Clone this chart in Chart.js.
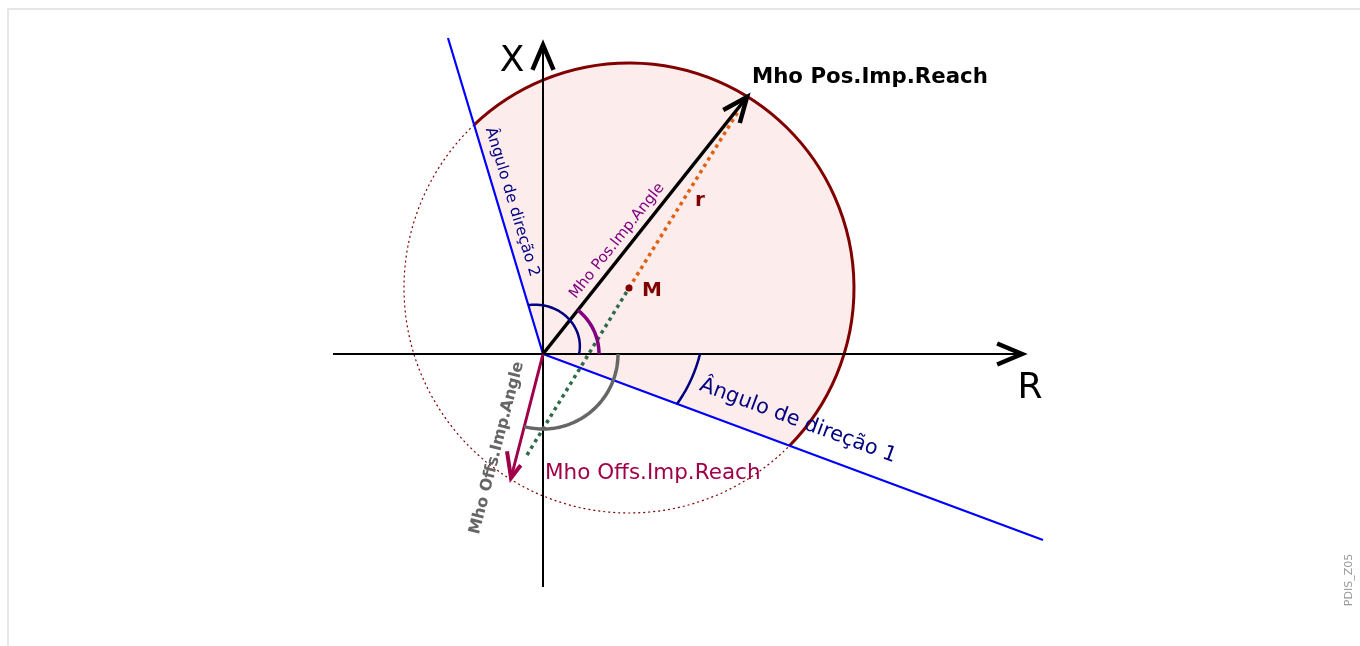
<!DOCTYPE html>
<html><head><meta charset="utf-8">
<script src="https://cdn.jsdelivr.net/npm/chart.js@4.4.0/dist/chart.umd.min.js"></script>
<style>html,body{margin:0;padding:0;background:#fff;overflow:hidden}canvas{display:block}</style>
</head><body>
<canvas id="c" width="1360" height="646"></canvas>
<script>
// ---- diagram values (impedance plane units, origin at R=0, X=0) ----
const axisR = [[-210, 0], [479, 0]];
const axisX = [[0, -233], [0, 309]];
const dirLine1 = [[0, 0], [500, -186]];
const dirLine2 = [[0, 0], [-95, 316]];
const posReach = [[0, 0], [204, 257]];
const offsReach = [[0, 0], [-32, -124]];
const centerM = [86, 66];
const radiusR = 225;
const offsToM = [[-16, -101], [86, 66]];
const mToPos = [[86, 66], [196, 244]];
const angleArcRadii = { dir2: [36, 51], posAngle: [56, 56], offsAngle: [75, 75], dir1: [157, 143] };
const labelTexts = {
  X: 'X', R: 'R', posReach: 'Mho Pos.Imp.Reach', offsReach: 'Mho Offs.Imp.Reach',
  posAngle: 'Mho Pos.Imp.Angle', offsAngle: 'Mho Offs.Imp.Angle',
  dir1: 'Ângulo de direção 1', dir2: 'Ângulo de direção 2', M: 'M', r: 'r', id: 'PDIS_Z05'
};

const toXY = a => a.map(p => ({ x: p[0], y: p[1] }));
const FONT = '"DejaVu Sans", "Liberation Sans", sans-serif';

function lineDS(points, color, width, dash, order) {
  return { type: 'scatter', data: toXY(points), showLine: true, borderColor: color, backgroundColor: color,
    borderWidth: width, borderDash: dash || [], pointRadius: 0, pointHoverRadius: 0, order: order || 0,
    borderCapStyle: 'butt', tension: 0 };
}

const diagram = {
  id: 'diagram',
  beforeDraw(chart) {
    const ctx = chart.ctx;
    ctx.save();
    ctx.strokeStyle = '#e6e6e6';
    ctx.lineWidth = 2;
    ctx.beginPath();
    ctx.moveTo(8, 646); ctx.lineTo(8, 9); ctx.lineTo(1360, 9);
    ctx.stroke();
    ctx.restore();
  },
  beforeDatasetsDraw(chart) {
    const ctx = chart.ctx, xs = chart.scales.x, ys = chart.scales.y;
    const P = p => [xs.getPixelForValue(p[0]), ys.getPixelForValue(p[1])];
    const unit = xs.getPixelForValue(1) - xs.getPixelForValue(0);
    const hit = (end) => {
      const L = Math.hypot(end[0], end[1]); const d = [end[0] / L, end[1] / L];
      const dm = d[0] * centerM[0] + d[1] * centerM[1];
      const t = dm + Math.sqrt(dm * dm - (centerM[0] ** 2 + centerM[1] ** 2) + radiusR * radiusR);
      return [d[0] * t, d[1] * t];
    };
    const p1 = P(hit(dirLine1[1])), p2 = P(hit(dirLine2[1])), c = P(centerM), o = P([0, 0]);
    const R = radiusR * unit;
    const a1 = Math.atan2(p1[1] - c[1], p1[0] - c[0]);
    const a2 = Math.atan2(p2[1] - c[1], p2[0] - c[0]);
    ctx.save();
    ctx.beginPath();
    ctx.moveTo(o[0], o[1]); ctx.lineTo(p1[0], p1[1]);
    ctx.arc(c[0], c[1], R, a1, a2, true);
    ctx.closePath();
    ctx.fillStyle = '#fcecec';
    ctx.fill();
    ctx.strokeStyle = '#800000'; ctx.lineWidth = 1; ctx.stroke();
    // dotted remainder
    ctx.beginPath();
    ctx.arc(c[0], c[1], R, a2, a1, true);
    ctx.setLineDash([2, 3]); ctx.lineWidth = 1.2; ctx.strokeStyle = '#800000'; ctx.stroke();
    ctx.setLineDash([]);
    // solid arc
    ctx.beginPath();
    ctx.arc(c[0], c[1], R, a1, a2, true);
    ctx.lineWidth = 3; ctx.strokeStyle = '#800000'; ctx.stroke();
    ctx.restore();
  },
  afterDatasetsDraw(chart) {
    const ctx = chart.ctx, xs = chart.scales.x, ys = chart.scales.y;
    const P = p => [xs.getPixelForValue(p[0]), ys.getPixelForValue(p[1])];
    const unit = xs.getPixelForValue(1) - xs.getPixelForValue(0);
    const o = P([0, 0]);
    const ang = p => Math.atan2(p[1], p[0]);
    const polarArc = (t0, t1, radii, color, width) => {
      ctx.beginPath();
      const n = 60;
      for (let i = 0; i <= n; i++) {
        const t = t0 + (t1 - t0) * i / n;
        const r = (radii[0] + (radii[1] - radii[0]) * i / n) * unit;
        const x = o[0] + r * Math.cos(t), y = o[1] - r * Math.sin(t);
        if (i === 0) ctx.moveTo(x, y); else ctx.lineTo(x, y);
      }
      ctx.strokeStyle = color; ctx.lineWidth = width; ctx.lineCap = 'butt'; ctx.stroke();
    };
    ctx.save();
    polarArc(0, ang(dirLine2[1]), angleArcRadii.dir2, '#000080', 2.5);
    polarArc(0, ang(posReach[1]), angleArcRadii.posAngle, '#800080', 3.5);
    polarArc(0, ang(offsReach[1]), angleArcRadii.offsAngle, '#666666', 3.5);
    polarArc(0, ang(dirLine1[1]), angleArcRadii.dir1, '#000080', 2.5);

    const head = (tipD, fromD, color, width, arms) => {
      const t = P(tipD), f = P(fromD);
      const a = Math.atan2(f[1] - t[1], f[0] - t[0]);
      const h = 23 * Math.PI / 180;
      const L1 = arms ? arms[0] : 27, L2 = arms ? arms[1] : 27;
      ctx.beginPath();
      ctx.moveTo(t[0] + L1 * Math.cos(a + h), t[1] + L1 * Math.sin(a + h));
      ctx.lineTo(t[0], t[1]);
      ctx.lineTo(t[0] + L2 * Math.cos(a - h), t[1] + L2 * Math.sin(a - h));
      ctx.strokeStyle = color; ctx.lineWidth = width; ctx.lineJoin = 'miter'; ctx.miterLimit = 10; ctx.lineCap = 'butt';
      ctx.stroke();
    };
    head(axisR[1], axisR[0], '#000', 4.5);
    head(axisX[1], axisX[0], '#000', 4.5);
    head(posReach[1], posReach[0], '#000', 4.5);
    head(offsReach[1], offsReach[0], '#a0004a', 4, [16, 27]);

    // M point
    const m = P(centerM);
    ctx.beginPath(); ctx.arc(m[0], m[1], 3.5, 0, Math.PI * 2); ctx.fillStyle = '#800000'; ctx.fill();

    const text = (s, at, deg, font, color, align) => {
      const p = P(at);
      ctx.save();
      ctx.translate(p[0], p[1]); ctx.rotate(deg * Math.PI / 180);
      ctx.font = font; ctx.fillStyle = color; ctx.textAlign = align || 'center'; ctx.textBaseline = 'middle';
      ctx.fillText(s, 0, 0);
      ctx.restore();
    };
    const deg = p => -Math.atan2(p[1], p[0]) * 180 / Math.PI;
    text(labelTexts.X, [-31, 292], 0, '36px ' + FONT, '#000');
    text(labelTexts.R, [487, -35], 0, '36px ' + FONT, '#000');
    text(labelTexts.posReach, [209, 277], 0, 'bold 21.3px ' + FONT, '#000', 'left');
    text(labelTexts.offsReach, [2, -119], 0, '21.5px ' + FONT, '#a0004a', 'left');
    text(labelTexts.M, [109, 63], 0, 'bold 20px ' + FONT, '#800000');
    text(labelTexts.r, [157, 153], 0, 'bold 20px ' + FONT, '#800000');
    text(labelTexts.posAngle, [74, 113], deg(posReach[1]), '15px ' + FONT, '#800080');
    text(labelTexts.dir2, [-31, 152], deg(dirLine2[1]) + 180, '15.5px ' + FONT, '#000080');
    text(labelTexts.dir1, [255, -67], deg(dirLine1[1]), '20.8px ' + FONT, '#000080');
    text(labelTexts.offsAngle, [-46, -94], deg(offsReach[1]) + 180, 'bold 16px ' + FONT, '#666666');
    text(labelTexts.id, [806, -226], -90, '11px ' + FONT, '#999999');
    ctx.restore();
  }
};

new Chart(document.getElementById('c'), {
  type: 'scatter',
  data: {
    datasets: [
      lineDS(posReach, '#000000', 3.5, null, 1),
      lineDS(offsReach, '#a0004a', 3, null, 1),
      lineDS(mToPos, '#e06010', 3.5, [3.5, 4], 2),
      lineDS(offsToM, '#2e6b4a', 3.5, [3.5, 4], 2),
      lineDS(axisR, '#000000', 2, null, 3),
      lineDS(axisX, '#000000', 2, null, 3),
      lineDS(dirLine1, '#0000ff', 2.2, null, 4),
      lineDS(dirLine2, '#0000ff', 2.2, null, 4)
    ]
  },
  options: {
    responsive: false, animation: false, events: [],
    layout: { padding: 0 },
    plugins: { legend: { display: false }, tooltip: { enabled: false }, title: { display: false } },
    scales: {
      x: { type: 'linear', min: -543, max: 817, display: false },
      y: { type: 'linear', min: -292, max: 354, display: false }
    }
  },
  plugins: [diagram]
});
</script>
</body></html>
